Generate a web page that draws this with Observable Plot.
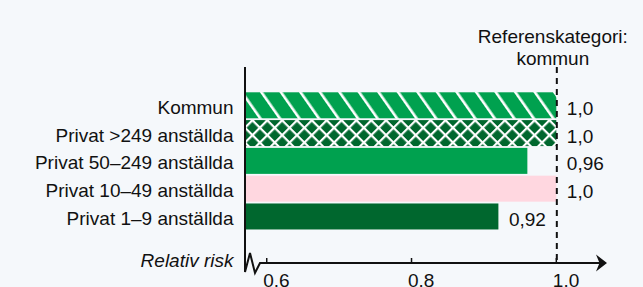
<!DOCTYPE html>
<html>
<head>
<meta charset="utf-8">
<script src="https://cdn.jsdelivr.net/npm/d3@7"></script>
<script src="https://cdn.jsdelivr.net/npm/@observablehq/plot@0.6"></script>
<style>
  html, body { margin: 0; padding: 0; background: #f5f8fb; }
  #chart svg { display: block; }
</style>
</head>
<body>
<div id="chart"></div>
<script>
// ---- data ----
const categories = [
  "Kommun",
  "Privat >249 anställda",
  "Privat 50–249 anställda",
  "Privat 10–49 anställda",
  "Privat 1–9 anställda"
];
const values = [1.0, 1.0, 0.96, 1.0, 0.92];
const valueLabels = ["1,0", "1,0", "0,96", "1,0", "0,92"];
const xTicks = [0.6, 0.8, 1.0];
const xTickLabels = ["0.6", "0.8", "1.0"];
const referenceValue = 1.0;
const headerLines = ["Referenskategori:", "kommun"];
const axisLabel = "Relativ risk";
const xDomain = [0.57, 1.07];

// ---- styles ----
const GREEN = "#00a14f", DARK = "#00672e", PINK = "#ffd7e0", INK = "#111", BG = "#f5f8fb";
const fillFor = {
  "Kommun": "url(#hatch)",
  "Privat >249 anställda": "url(#cross)",
  "Privat 50–249 anställda": GREEN,
  "Privat 10–49 anställda": PINK,
  "Privat 1–9 anställda": DARK
};

const rows = categories.map((c, i) => ({cat: c, value: values[i], label: valueLabels[i]}));
const W = 643, H = 287, mL = 245, mR = 36, mT = 67, mB = 24;
const FONT = "'Liberation Sans', Arial, Helvetica, sans-serif";

const plot = Plot.plot({
  width: W, height: H,
  marginLeft: mL, marginRight: mR, marginTop: mT, marginBottom: mB,
  style: {background: BG, fontFamily: FONT, fontSize: "19px", color: INK, overflow: "visible"},
  x: {domain: xDomain},
  y: {domain: categories, paddingInner: 0.065, paddingOuter: 1.058, align: 0.43, round: false},
  color: {type: "identity"},
  marks: [
    Plot.barX(rows, {y: "cat", x1: () => xDomain[0], x2: "value", fill: d => fillFor[d.cat], inset: 0}),
    Plot.ruleX([referenceValue], {stroke: INK, strokeWidth: 2, strokeDasharray: "6,5"}),
    Plot.axisY({label: null, tickSize: 0, tickPadding: 12, fontSize: 19, dy: 2, fill: INK}),
    Plot.axisX(xTicks, {label: null, tickSize: 0, tickPadding: 9.5, textAnchor: "start", dx: -4, fontSize: 19, fill: INK,
      tickFormat: d => xTickLabels[xTicks.indexOf(d)]}),
    Plot.text(rows, {x: d => (d.value > 0.93 ? referenceValue : d.value), y: "cat", text: "label",
      dx: 10, dy: 3, textAnchor: "start", fontSize: 19, fill: INK}),
    Plot.text([headerLines.join("\n")], {x: () => referenceValue, frameAnchor: "top", lineAnchor: "bottom",
      dx: -4, dy: -3, lineHeight: 1.15, textAnchor: "middle", fontSize: 19, fill: INK}),
    Plot.text([axisLabel], {frameAnchor: "bottom-left", textAnchor: "end", dx: -12, dy: 3,
      fontStyle: "italic", fontSize: 19, fill: INK})
  ]
});

// patterns
const svg = d3.select(plot);
const defs = svg.insert("defs", ":first-child");
const hatch = defs.append("pattern").attr("id", "hatch").attr("patternUnits", "userSpaceOnUse")
  .attr("width", 16).attr("height", 16).attr("patternTransform", "rotate(-35)");
hatch.append("rect").attr("width", 16).attr("height", 16).attr("fill", GREEN);
hatch.append("rect").attr("width", 2.6).attr("height", 16).attr("fill", "#fff");
const cross = defs.append("pattern").attr("id", "cross").attr("patternUnits", "userSpaceOnUse")
  .attr("width", 10.5).attr("height", 10.5).attr("patternTransform", "rotate(45)");
cross.append("rect").attr("width", 10.5).attr("height", 10.5).attr("fill", DARK);
cross.append("rect").attr("width", 2.2).attr("height", 10.5).attr("fill", "#fff");
cross.append("rect").attr("width", 10.5).attr("height", 2.2).attr("fill", "#fff");

// broken axes with arrow
const sx = plot.scale("x");
const x0 = sx.apply(xDomain[0]);
const tip = sx.apply(xDomain[1]);
const yB = H - mB, yT = mT;
const g = svg.append("g").attr("fill", "none").attr("stroke", INK).attr("stroke-width", 2);
g.append("path").attr("stroke-linejoin", "miter")
  .attr("d", `M${x0},${yT} V${yB + 9} L${x0 + 5},${yB - 10} L${x0 + 10},${yB + 10} L${x0 + 15},${yB} H${tip - 7}`);
g.selectAll("line.tk").data(xTicks).join("line").attr("class", "tk")
  .attr("x1", d => sx.apply(d)).attr("x2", d => sx.apply(d))
  .attr("y1", yB - 5).attr("y2", yB).attr("stroke-width", 1.5);
svg.append("path").attr("fill", INK)
  .attr("d", `M${tip},${yB} L${tip - 11},${yB - 8.5} L${tip - 7.5},${yB} L${tip - 11},${yB + 8.5} Z`);

document.getElementById("chart").appendChild(plot);
</script>
</body>
</html>
